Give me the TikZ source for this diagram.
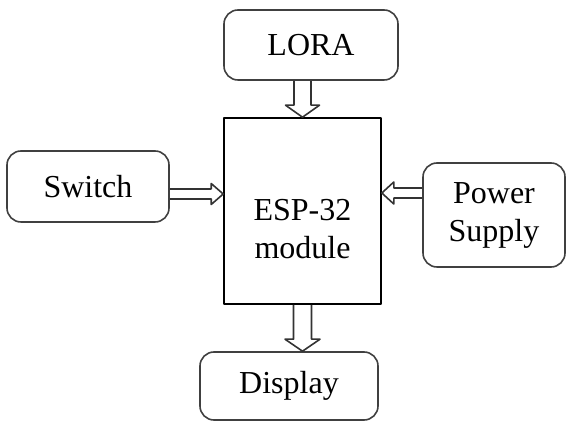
\documentclass[tikz,border=0pt]{standalone}
\usepackage{fontspec}
\setmainfont{Liberation Serif}
\usetikzlibrary{calc}

% hollow block arrow: from, to, shaft half width, head half width
\newcommand{\hollowarrow}[4]{%
  \coordinate (h) at ($(#2)!6pt!(#1)$);
  \draw[hollow] ($(#1)!#3!90:(#2)$) -- ($(h)!#3!90:(#2)$) -- ($(h)!#4!90:(#2)$) -- (#2)
    -- ($(h)!#4!-90:(#2)$) -- ($(h)!#3!-90:(#2)$) -- ($(#1)!#3!-90:(#2)$);
}

\begin{document}
\begin{tikzpicture}[x=0.5pt, y=-0.5pt, line join=round,
    label text/.style={align=center, font=\fontsize{16}{19}\selectfont},
    box/.style={label text, draw=black!75, line width=0.8pt, rounded corners=7pt},
    hollow/.style={draw=black!80, line width=0.8pt}]
    \useasboundingbox (0,0) rectangle (567,426);
    \foreach \x/\y/\w/\h/\id/\text in {
        311/45/174/70/lora/LORA,
        88/186.5/162/71/switch/Switch,
        494/215/142/104/power/{Power\\Supply},
        289/386/178/68/display/Display%
    } {
        \node[box, minimum width=\w*0.5pt, minimum height=\h*0.5pt] (\id) at (\x, \y) {\text};
    }
    \node[draw, line width=0.8pt, minimum width=78.5pt, minimum height=93pt] (esp) at (302.5, 211) {};
    \node[label text] (esptext) at (302.5, 229) {ESP-32\\module};

    \coordinate (lora-out) at (lora.south -| esp.north);
    \coordinate (display-in) at (esp.south |- display.north);
    \coordinate (switch-out) at ([yshift=-3.75pt]switch.east);
    \coordinate (switch-in) at (switch-out -| esp.west);
    \coordinate (power-out) at ([yshift=11pt]power.west);
    \coordinate (power-in) at (power-out -| esp.east);

    \hollowarrow{lora-out}{esp.north}{4.25pt}{8.5pt}
    \hollowarrow{esp.south}{display-in}{4.5pt}{8.75pt}
    \hollowarrow{switch-out}{switch-in}{2.5pt}{5.25pt}
    \hollowarrow{power-out}{power-in}{2.5pt}{5.5pt}
\end{tikzpicture}
\end{document}
